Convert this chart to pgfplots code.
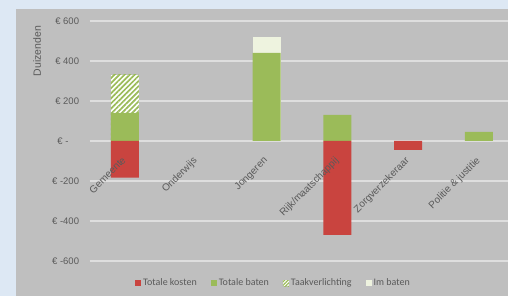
\documentclass[border=0pt]{standalone}
\usepackage{fontspec}
\setmainfont{Liberation Sans}
\newfontfamily\legfont{Carlito}
\usepackage{pgfplots}
\pgfplotsset{compat=1.18}
\usetikzlibrary{patterns.meta}
\definecolor{bgblue}{HTML}{DDE8F4}
\definecolor{bggray}{HTML}{BFBFBF}
\definecolor{gridc}{HTML}{DEDEDE}
\definecolor{kost}{HTML}{C9443F}
\definecolor{baten}{HTML}{9BBB59}
\definecolor{imb}{HTML}{EEF3DF}
\definecolor{txt}{HTML}{5A5A5A}
\begin{document}
\begin{tikzpicture}
\path[use as bounding box] (0pt,0pt) rectangle (508pt,296pt);
\fill[bgblue] (0pt,0pt) rectangle (508pt,296pt);
\fill[bggray] (16pt,0pt) rectangle (508pt,287pt);
\node[rotate=90, text=txt, font=\fontsize{10.5}{12}\selectfont] at (37pt,245pt) {Duizenden};
% bars and grid
\begin{axis}[
  at={(89.6pt,35pt)}, anchor=south west, scale only axis,
  width=418.4pt, height=240pt,
  xmin=-0.5, xmax=5.41, ymin=-600, ymax=600,
  ytick={-600,-400,...,600}, xtick=\empty, yticklabels={},
  ymajorgrids, grid style={gridc, line width=1.2pt},
  axis line style={draw=none}, major tick length=0pt,
]
% Im baten (top of stack: Totale baten + Im baten)
\addplot[ybar, bar width=28pt, bar shift=0pt, fill=imb, draw=none] coordinates {(2,520)};
% Taakverlichting (top of stack: Totale baten + Taakverlichting)
\addplot[ybar, bar width=28pt, bar shift=0pt, fill=white, draw=none,
  postaction={pattern={Lines[angle=45,distance=3.6pt,line width=1.7pt]},pattern color=baten}] coordinates {(0,330)};
% Totale baten
\addplot[ybar, bar width=28pt, bar shift=0pt, fill=baten, draw=none] coordinates {(0,140) (2,441) (3,130) (5,45)};
% Totale kosten
\addplot[ybar, bar width=28pt, bar shift=0pt, fill=kost, draw=none] coordinates {(0,-183) (3,-470) (4,-45)};
\end{axis}
% labels and legend
\begin{axis}[
  at={(89.6pt,35pt)}, anchor=south west, scale only axis,
  width=418.4pt, height=240pt,
  xmin=-0.5, xmax=5.41, ymin=-600, ymax=600,
  axis x line=middle, axis y line=left,
  axis line style={draw=none,-},
  major tick length=0pt,
  xtick={0,1,2,3,4,5},
  xticklabels={Gemeente,Onderwijs,Jongeren,Rijk/maatschappij,Zorgverzekeraar,Politie \& justitie},
  xticklabel style={rotate=45, anchor=north east, text=txt, font=\fontsize{10}{12}\selectfont, inner sep=0pt, xshift=-13pt, yshift=-8pt},
  ytick={-600,-400,...,600},
  yticklabels={€ -600,€ -400,€ -200,€ -\phantom{00},€ 200,€ 400,€ 600},
  yticklabel style={text=txt, font=\fontsize{9.5}{11}\selectfont, anchor=east, xshift=-7pt},
  legend style={at={(axis description cs:0.4395,-0.0917)}, anchor=center, draw=none, fill=none,
    font=\legfont\fontsize{10}{12}\selectfont, text=txt,
    /tikz/every even column/.append style={column sep=12pt}},
  legend columns=4,
  legend image code/.code={\path[#1] (0pt,-3pt) rectangle (6pt,3pt);},
]
\addlegendimage{fill=kost, draw=none}
\addlegendentry{Totale kosten}
\addlegendimage{fill=baten, draw=none}
\addlegendentry{Totale baten}
\addlegendimage{fill=white, draw=none, postaction={pattern={Lines[angle=45,distance=2.5pt,line width=1.2pt]},pattern color=baten}}
\addlegendentry{Taakverlichting}
\addlegendimage{fill=imb, draw=none}
\addlegendentry{Im baten}
\end{axis}
\end{tikzpicture}
\end{document}
